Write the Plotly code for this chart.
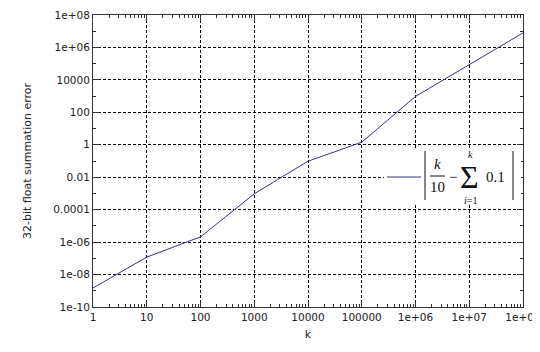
import plotly.graph_objects as go

# data
k_values = [1, 10, 100, 1000, 10000, 100000, 1e6, 1e7, 1e8]
errors = [1.49e-9, 1.19e-7, 2.1e-6, 9.5e-4, 0.097, 1.44, 958, 87937, 7.9e6]

x_tickvals = [1, 10, 100, 1000, 10000, 100000, 1e6, 1e7, 1e8]
x_ticktext = ["1", "10", "100", "1000", "10000", "100000", "1e+06", "1e+07", "1e+08"]
y_tickvals = [1e-10, 1e-8, 1e-6, 1e-4, 0.01, 1, 100, 10000, 1e6, 1e8]
y_ticktext = ["1e-10", "1e-08", "1e-06", "0.0001", "0.01", "1", "100", "10000", "1e+06", "1e+08"]

x_minor = [m * 10**d for d in range(0, 8) for m in range(2, 10)]
y_minor = [10.0**e for e in range(-9, 8, 2)]

# the page adds an 8px body margin; figure coords = page coords - 8
OFF = 8
W, H = 540 - OFF, 352 - OFF
L, R, T, B = 93 - OFF, 523 - OFF, 15 - OFF, 307 - OFF

def px(x):
    return (x - OFF - L) / (R - L)

def py(y):
    return (B - (y - OFF)) / (B - T)

line_color = "#34348f"
fig = go.Figure()
fig.add_trace(go.Scatter(x=k_values, y=errors, mode="lines",
                         line=dict(color=line_color, width=1), showlegend=False))

axis_common = dict(
    type="log", showline=True, linecolor="#333", linewidth=1, mirror="ticks",
    ticks="inside", ticklen=6, tickcolor="#333", tickwidth=1,
    showgrid=True, gridcolor="#000", gridwidth=1, griddash="3px,2px",
    zeroline=False, tickfont=dict(family="DejaVu Sans", size=10.5, color="#222"),
    ticklabeloverflow="allow", automargin=False,
)

fig.update_xaxes(**axis_common, range=[0, 8], tickmode="array",
                 tickvals=x_tickvals, ticktext=x_ticktext,
                 minor=dict(tickmode="array", tickvals=x_minor, ticks="inside",
                            ticklen=3, tickcolor="#333", showgrid=False),
                 title=dict(text="k", font=dict(family="DejaVu Sans", size=11, color="#222"), standoff=8))
fig.update_yaxes(**axis_common, range=[-10, 8], tickmode="array",
                 tickvals=y_tickvals, ticktext=y_ticktext,
                 minor=dict(tickmode="array", tickvals=y_minor, ticks="inside",
                            ticklen=3, tickcolor="#333", showgrid=False),
                 title=dict(text="32-bit float summation error",
                            font=dict(family="DejaVu Sans", size=11, color="#222"), standoff=19))

shapes = [
    dict(type="rect", xref="paper", yref="paper", x0=px(384), x1=px(521), y0=py(204), y1=py(148),
         fillcolor="white", line=dict(width=0), layer="above"),
    dict(type="line", xref="paper", yref="paper", x0=px(387), x1=px(421), y0=py(177), y1=py(177),
         line=dict(color=line_color, width=1), layer="above"),
    dict(type="line", xref="paper", yref="paper", x0=px(425), x1=px(425), y0=py(200), y1=py(151),
         line=dict(color="#111", width=1), layer="above"),
    dict(type="line", xref="paper", yref="paper", x0=px(513), x1=px(513), y0=py(200), y1=py(151),
         line=dict(color="#111", width=1), layer="above"),
    dict(type="line", xref="paper", yref="paper", x0=px(430), x1=px(445), y0=py(176), y1=py(176),
         line=dict(color="#111", width=1), layer="above"),
]

serif = "Liberation Serif"
def ann(x, y, text, size, italic=False):
    t = f"<i>{text}</i>" if italic else text
    return dict(xref="paper", yref="paper", x=px(x), y=py(y), text=t, showarrow=False,
                xanchor="center", yanchor="middle",
                font=dict(family=serif, size=size, color="#111"))

annotations = [
    ann(437, 164, "k", 15, True),
    ann(437, 187, "10", 15),
    ann(453, 177, "−", 15),
    ann(469, 177, "Σ", 32),
    ann(470, 154, "k", 10, True),
    ann(470, 200, "<i>i</i>=1", 10),
    ann(495, 177, "0.1", 15),
]

fig.update_layout(width=W, height=H, margin=dict(l=L, r=W - R, t=T, b=H - B),
                  plot_bgcolor="white", paper_bgcolor="white",
                  shapes=shapes, annotations=annotations)

fig.write_html("out.html")
